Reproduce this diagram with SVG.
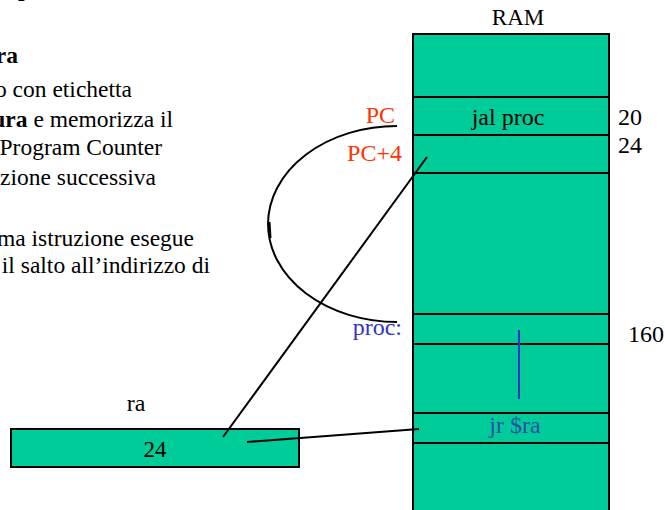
<svg xmlns="http://www.w3.org/2000/svg" width="665" height="510" viewBox="0 0 665 510">
  <style>
    text { font-family: "Liberation Serif", "Times New Roman", serif; font-size: 24px; fill: #000; }
    .note { font-size: 23.5px; }
    .cell { fill: #00CC99; stroke: #000; stroke-width: 2; }
    .sep { stroke: #000; stroke-width: 2; }
    .wire { fill: none; stroke: #000; stroke-width: 2; }
    .red { fill: #FF3300; }
    .blue { fill: #3333CC; }
    .end { text-anchor: end; }
    .mid { text-anchor: middle; }
  </style>

  <!-- body text on the left (cut by the frame edge) -->
  <g id="notes">
    <text class="note" x="18" y="-4" font-weight="bold">p</text>
    <text class="note" x="126" y="-4">,</text>
    <text class="note end" x="18" y="63" font-weight="bold">ra</text>
    <text class="note end" x="132" y="97">o con etichetta</text>
    <text class="note end" x="173" y="127"><tspan font-weight="bold">ura</tspan> e memorizza il</text>
    <text class="note end" x="162" y="155">Program Counter</text>
    <text class="note end" x="156" y="185">zione successiva</text>
    <text class="note end" x="194" y="246">ma istruzione esegue</text>
    <text class="note end" x="210" y="273">il salto all’indirizzo di</text>
  </g>

  <!-- memory column -->
  <g id="ram">
    <text class="mid" x="518" y="25" style="font-size:23px">RAM</text>
    <rect class="cell" x="413" y="34" width="196" height="490"/>
    <line class="sep" x1="413" y1="97" x2="609" y2="97"/>
    <line class="sep" x1="413" y1="135" x2="609" y2="135"/>
    <line class="sep" x1="413" y1="173" x2="609" y2="173"/>
    <line class="sep" x1="413" y1="314" x2="609" y2="314"/>
    <line class="sep" x1="413" y1="344" x2="609" y2="344"/>
    <line class="sep" x1="413" y1="413" x2="609" y2="413"/>
    <line class="sep" x1="413" y1="443" x2="609" y2="443"/>
    <text class="mid" x="508" y="125">jal proc</text>
    <text x="618" y="125">20</text>
    <text x="618" y="153">24</text>
    <text x="628" y="342">160</text>
    <line x1="519" y1="330" x2="519" y2="399" stroke="#3333CC" stroke-width="2"/>
    <text class="mid" x="515" y="433" style="fill:#2A4FA8">jr $ra</text>
  </g>

  <!-- address labels -->
  <g id="labels">
    <text class="end red" x="395" y="123">PC</text>
    <text class="end red" x="402" y="161">PC+4</text>
    <text class="end blue" x="402" y="335">proc:</text>
  </g>

  <!-- register ra -->
  <g id="reg-ra">
    <text class="mid" x="136" y="411">ra</text>
    <rect class="cell" x="11" y="429" width="288" height="38"/>
    <text class="mid" x="155" y="457" style="font-size:23px">24</text>
  </g>

  <!-- connectors -->
  <g id="connectors">
    <path class="wire" d="M397,126 A129,98 0 0 0 397,322"/>
    <path class="wire" stroke-width="1.2" d="M269.5,222 L270.5,238"/>
    <line class="wire" x1="427" y1="157" x2="223" y2="437"/>
    <line class="wire" x1="247" y1="442" x2="419" y2="429"/>
  </g>
</svg>
